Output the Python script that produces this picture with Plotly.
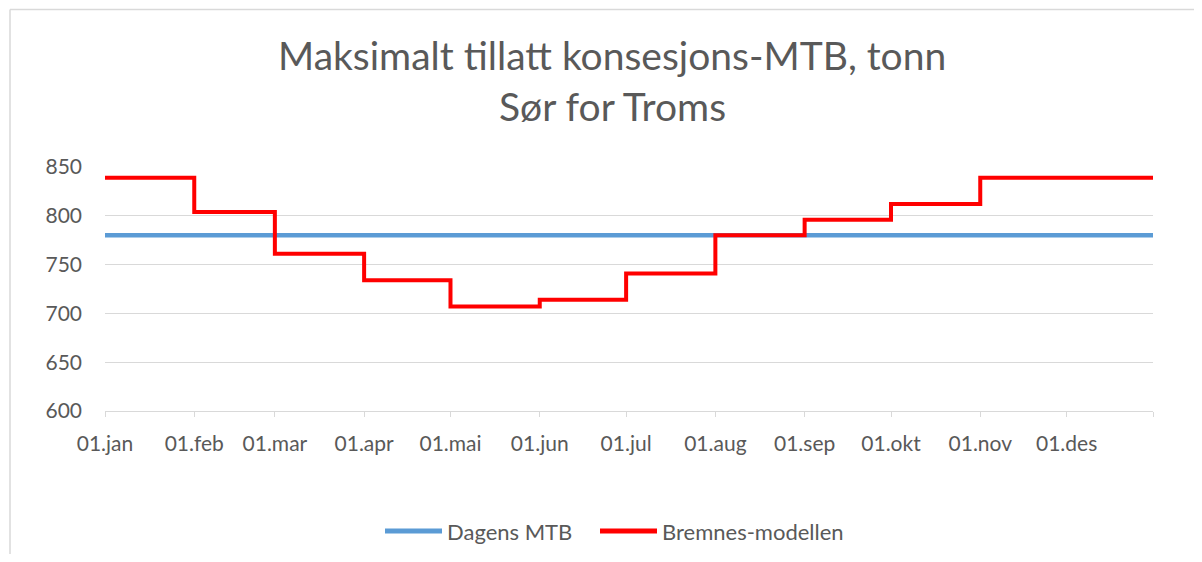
import plotly.graph_objects as go

# Data
month_starts = ["2021-01-01", "2021-02-01", "2021-03-01", "2021-04-01", "2021-05-01", "2021-06-01",
                "2021-07-01", "2021-08-01", "2021-09-01", "2021-10-01", "2021-11-01", "2021-12-01"]
end_date = "2021-12-31"
tick_labels = ["01.jan", "01.feb", "01.mar", "01.apr", "01.mai", "01.jun",
               "01.jul", "01.aug", "01.sep", "01.okt", "01.nov", "01.des"]
series_names = ["Dagens MTB", "Bremnes-modellen"]
series_colors = ["#5b9bd5", "#ff0000"]
dagens_mtb = [780] * 12
bremnes = [839, 804, 761, 734, 707, 714, 741, 780, 796, 812, 839, 839]

x_vals = month_starts + [end_date]
blue_y = dagens_mtb + [dagens_mtb[-1]]
red_y = bremnes + [bremnes[-1]]

# page offset (body margin) and target plot area in page pixels
OFF = 8
W, H = 1202 - 2 * OFF, 562 - 2 * OFF
L, R, T, B = 105, 1153, 167, 411
pw, ph = R - L, B - T

def px(x):
    return (x - L) / pw

def py(y):
    return (B - y) / ph

grey = "#595959"
font = "Lato, 'Open Sans', sans-serif"

fig = go.Figure()
fig.add_trace(go.Scatter(x=x_vals, y=blue_y, mode="lines", name=series_names[0],
                         line=dict(color=series_colors[0], width=4.5, shape="hv"), showlegend=False))
fig.add_trace(go.Scatter(x=x_vals, y=red_y, mode="lines", name=series_names[1],
                         line=dict(color=series_colors[1], width=4, shape="hv"), showlegend=False))

fig.update_layout(
    width=W, height=H,
    margin=dict(l=L - OFF, r=W - (R - OFF), t=T - OFF, b=H - (B - OFF), pad=0),
    paper_bgcolor="white", plot_bgcolor="white",
    font=dict(family=font, color=grey, size=21),
    showlegend=False,
    hovermode=False,
)
fig.update_xaxes(
    type="date", range=[month_starts[0], end_date],
    tickvals=x_vals, ticktext=tick_labels + [""],
    ticks="outside", ticklen=5, tickcolor="#d9d9d9", tickwidth=1,
    showline=True, linecolor="#d9d9d9", linewidth=1,
    showgrid=False, zeroline=False, ticklabelstandoff=9,
    tickfont=dict(size=21, color=grey),
)
fig.update_yaxes(
    range=[600, 850], tickvals=[600, 650, 700, 750, 800, 850],
    showgrid=True, gridcolor="#d9d9d9", gridwidth=1,
    zeroline=False, showline=False, ticks="", ticklabelstandoff=22,
    tickfont=dict(size=21, color=grey),
)

fig.add_annotation(text="Maksimalt tillatt konsesjons-MTB, tonn", xref="paper", yref="paper",
                   x=px(612), y=py(55), xanchor="center", yanchor="middle", showarrow=False,
                   font=dict(size=39, color=grey, family=font))
fig.add_annotation(text="Sør for Troms", xref="paper", yref="paper",
                   x=px(612), y=py(106), xanchor="center", yanchor="middle", showarrow=False,
                   font=dict(size=39, color=grey, family=font))

# manual legend
legend_items = [(385, 442, 445), (600, 657, 660)]
for (x0, x1, tx), name, col in zip(legend_items, series_names, series_colors):
    fig.add_shape(type="line", xref="paper", yref="paper",
                  x0=px(x0), x1=px(x1), y0=py(531), y1=py(531),
                  line=dict(color=col, width=5))
    fig.add_annotation(text=name, xref="paper", yref="paper", x=px(tx), y=py(531),
                       xanchor="left", yanchor="middle", showarrow=False,
                       font=dict(size=22, color=grey, family=font))

# chart border (top and left edges visible)
fig.add_shape(type="line", xref="paper", yref="paper",
              x0=px(10), x1=px(1202), y0=py(9.5), y1=py(9.5),
              line=dict(color="#d9d9d9", width=1.5))
fig.add_shape(type="line", xref="paper", yref="paper",
              x0=px(10), x1=px(10), y0=py(9.5), y1=py(562),
              line=dict(color="#d9d9d9", width=1.5))

fig.write_html("out.html")
